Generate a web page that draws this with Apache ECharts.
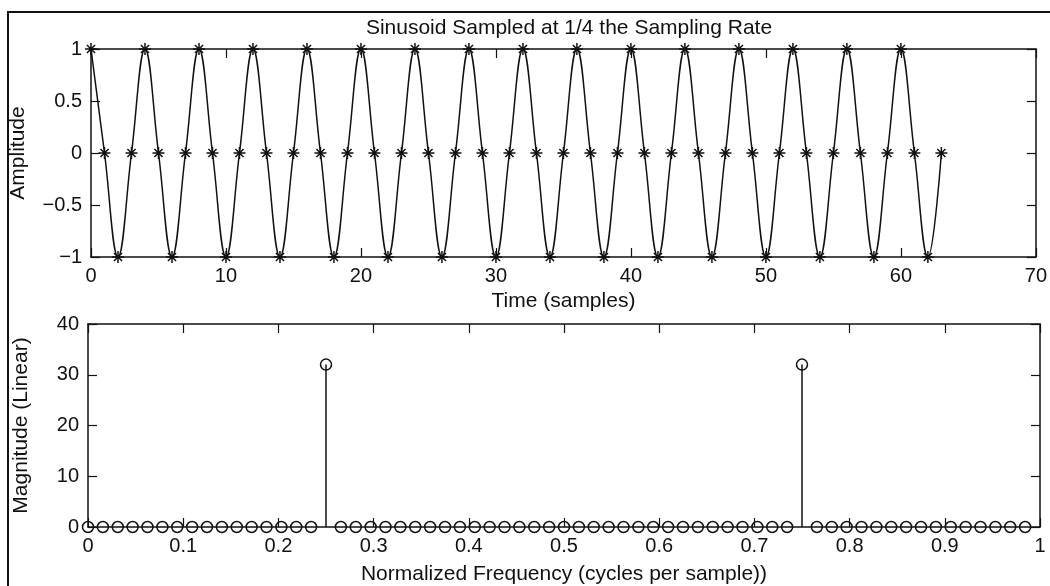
<!DOCTYPE html>
<html>
<head>
<meta charset="utf-8">
<script src="https://cdn.jsdelivr.net/npm/echarts@6/dist/echarts.min.js"></script>
<style>
  html, body { margin: 0; padding: 0; background: #fff; }
  #chart { width: 1050px; height: 586px; }
</style>
</head>
<body>
<div id="chart"></div>
<script>
// Samples of a cosine at a quarter of the sampling rate, n = 0..63
const amplitude = [
  1, 0, -1, 0, 1, 0, -1, 0, 1, 0, -1, 0, 1, 0, -1, 0,
  1, 0, -1, 0, 1, 0, -1, 0, 1, 0, -1, 0, 1, 0, -1, 0,
  1, 0, -1, 0, 1, 0, -1, 0, 1, 0, -1, 0, 1, 0, -1, 0,
  1, 0, -1, 0, 1, 0, -1, 0, 1, 0, -1, 0, 1, 0, -1, 0
];
// |DFT| of those 64 samples, one value per bin
const magnitude = [
  0, 0, 0, 0, 0, 0, 0, 0, 0, 0, 0, 0, 0, 0, 0, 0,
  32, 0, 0, 0, 0, 0, 0, 0, 0, 0, 0, 0, 0, 0, 0, 0,
  0, 0, 0, 0, 0, 0, 0, 0, 0, 0, 0, 0, 0, 0, 0, 0,
  32, 0, 0, 0, 0, 0, 0, 0, 0, 0, 0, 0, 0, 0, 0, 0
];
const FFT_SIZE = 64;

const timeTicks = { min: 0, max: 70, interval: 10 };
const ampTicks = { min: -1, max: 1, interval: 0.5 };
const freqTicks = { min: 0, max: 1, interval: 0.1 };
const magTicks = { min: 0, max: 40, interval: 10 };

const titleText = 'Sinusoid Sampled at 1/4 the Sampling Rate';
const timeLabel = 'Time (samples)';
const ampLabel = 'Amplitude';
const freqLabel = 'Normalized Frequency (cycles per sample))';
const magLabel = 'Magnitude (Linear)';

const timeData = amplitude.map((v, n) => [n, v]);
const freqData = magnitude.map((v, k) => [k / FFT_SIZE, v]);

const FONT = '"Liberation Sans", Arial, Helvetica, sans-serif';
const TICK_FS = 20;
const NAME_FS = 21;
const INK = '#111';

function fmt(v) {
  const r = Math.round(v * 1000) / 1000;
  return r < 0 ? '\u2212' + String(-r) : String(r);
}

const lineStyle = { color: INK, width: 1.5 };
function axis(grid, pos, range, extra) {
  return Object.assign({
    type: 'value', gridIndex: grid, position: pos,
    min: range.min, max: range.max, interval: range.interval,
    axisLine: { show: true, onZero: false, lineStyle },
    axisTick: { show: true, inside: true, length: 9, lineStyle: { color: INK, width: 1.2 } },
    axisLabel: { show: false },
    splitLine: { show: false }
  }, extra || {});
}
const labelStyle = (margin) => ({
  show: true, color: INK, fontFamily: FONT, fontSize: TICK_FS, margin, formatter: fmt
});
const nameStyle = { color: INK, fontFamily: FONT, fontSize: NAME_FS };

// '*' marker drawn as strokes
const STAR = 'path://M5,0L5,10M0,5L10,5M1.6,1.6L8.4,8.4M1.6,8.4L8.4,1.6';

const chart = echarts.init(document.getElementById('chart'), null, { renderer: 'canvas' });
chart.setOption({
  backgroundColor: '#fff',
  animation: false,
  title: {
    text: titleText, left: 564, top: 13, textAlign: 'center',
    textStyle: { color: INK, fontFamily: FONT, fontSize: NAME_FS, fontWeight: 'normal' }
  },
  graphic: [{
    type: 'rect', silent: true, z: 100,
    shape: { x: 8, y: 12, width: 1100, height: 700 },
    style: { fill: 'none', stroke: '#111', lineWidth: 2 }
  }],
  grid: [
    { left: 88, top: 49, width: 952, height: 208 },
    { left: 88, top: 324, width: 952, height: 205 }
  ],
  xAxis: [
    axis(0, 'bottom', timeTicks, {
      axisLabel: labelStyle(9), name: timeLabel, nameLocation: 'middle',
      nameGap: 34, nameTextStyle: nameStyle
    }),
    axis(0, 'top', timeTicks),
    axis(1, 'bottom', freqTicks, {
      axisLabel: labelStyle(9), name: freqLabel, nameLocation: 'middle',
      nameGap: 37, nameTextStyle: nameStyle
    }),
    axis(1, 'top', freqTicks)
  ],
  yAxis: [
    axis(0, 'left', ampTicks, {
      axisLabel: labelStyle(9), name: ampLabel, nameLocation: 'middle',
      nameGap: 62, nameTextStyle: nameStyle
    }),
    axis(0, 'right', ampTicks),
    axis(1, 'left', magTicks, {
      axisLabel: labelStyle(9), name: magLabel, nameLocation: 'middle',
      nameGap: 56, nameTextStyle: nameStyle
    }),
    axis(1, 'right', magTicks)
  ],
  series: [
    {
      type: 'line', xAxisIndex: 0, yAxisIndex: 0, data: timeData,
      smooth: 0.42, showSymbol: false, symbol: 'none',
      lineStyle: { color: INK, width: 1.5 }, z: 3
    },
    {
      type: 'scatter', xAxisIndex: 0, yAxisIndex: 0, data: timeData,
      symbol: STAR, symbolSize: 12,
      itemStyle: { color: 'none', borderColor: INK, borderWidth: 1.5, opacity: 1 },
      z: 4
    },
    {
      type: 'custom', xAxisIndex: 2, yAxisIndex: 2, data: freqData,
      renderItem: (params, api) => {
        const p0 = api.coord([api.value(0), 0]);
        const p1 = api.coord([api.value(0), api.value(1)]);
        return {
          type: 'line',
          shape: { x1: p0[0], y1: p0[1], x2: p1[0], y2: p1[1] },
          style: { stroke: INK, lineWidth: 1.5 }
        };
      },
      z: 3
    },
    {
      type: 'scatter', xAxisIndex: 2, yAxisIndex: 2, data: freqData,
      symbol: 'circle', symbolSize: 11,
      itemStyle: { color: 'none', borderColor: INK, borderWidth: 1.5, opacity: 1 },
      z: 4
    }
  ]
});
</script>
</body>
</html>
